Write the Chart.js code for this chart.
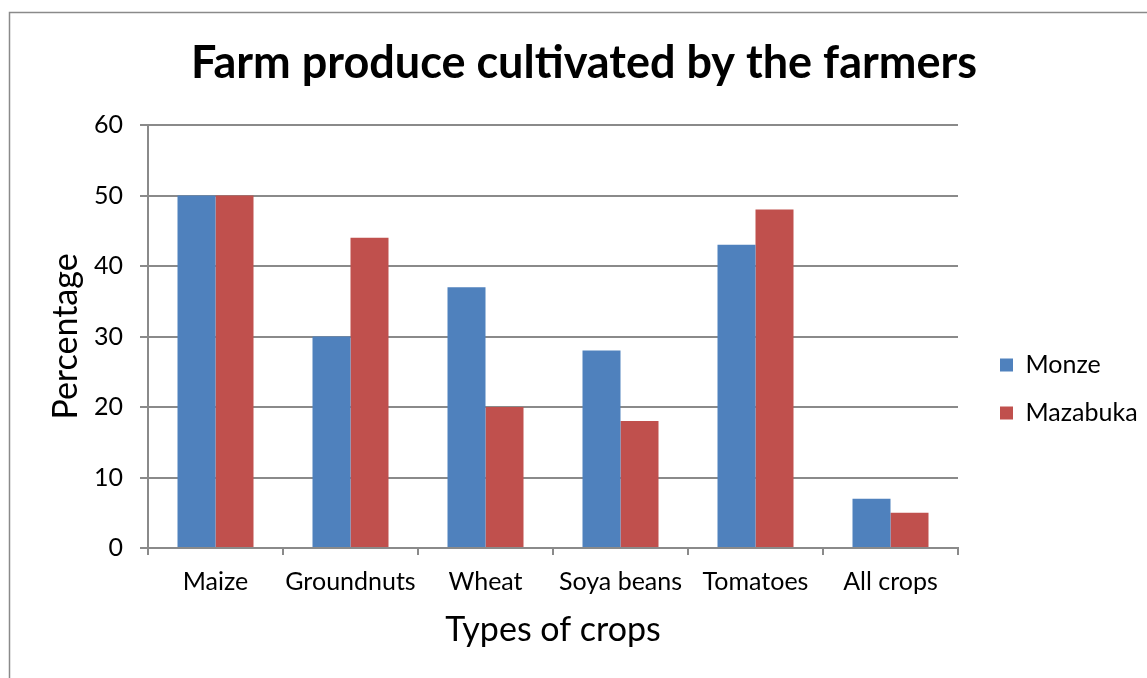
<!DOCTYPE html>
<html>
<head>
<meta charset="utf-8">
<script src="https://cdn.jsdelivr.net/npm/chart.js@4/dist/chart.umd.min.js"></script>
<style>
  html, body { margin: 0; padding: 0; background: #fff; }
  #wrap { width: 1147px; height: 678px; position: relative; }
</style>
</head>
<body>
<div id="wrap"><canvas id="c"></canvas></div>
<script>
// Share of farmers growing each crop, by district (%)
const crops = ['Maize', 'Groundnuts', 'Wheat', 'Soya beans', 'Tomatoes', 'All crops'];
const monze = [50, 30, 37, 28, 43, 7];
const mazabuka = [50, 44, 20, 18, 48, 5];
const seriesNames = ['Monze', 'Mazabuka'];
const yMin = 0, yMax = 60, yStep = 10;

const FONT = 'Lato, "Open Sans", sans-serif';
const GRID = '#8a8a8a';

// Thin frame around the whole figure
const frame = {
  id: 'frame',
  beforeDraw(chart) {
    const ctx = chart.ctx;
    ctx.save();
    ctx.fillStyle = '#fff';
    ctx.fillRect(0, 0, chart.width, chart.height);
    ctx.strokeStyle = '#8a8a8a';
    ctx.lineWidth = 1.5;
    ctx.strokeRect(9.5, 12.5, chart.width + 20, chart.height + 20);
    ctx.restore();
  }
};

new Chart(document.getElementById('c'), {
  type: 'bar',
  data: {
    labels: crops,
    datasets: [
      { label: seriesNames[0], data: monze, backgroundColor: '#4F81BD', borderWidth: 0 },
      { label: seriesNames[1], data: mazabuka, backgroundColor: '#C0504D', borderWidth: 0 }
    ]
  },
  options: {
    responsive: true,
    maintainAspectRatio: false,
    animation: false,
    categoryPercentage: 0.563,
    barPercentage: 1.0,
    layout: { padding: { left: 23, right: 2, top: 20, bottom: 28 } },
    plugins: {
      title: {
        display: true,
        text: 'Farm produce cultivated by the farmers',
        color: '#000',
        font: { family: FONT, size: 45, weight: 'bold' },
        padding: { top: 16, bottom: 35 }
      },
      legend: {
        position: 'right',
        maxWidth: 168,
        title: { display: true, text: ' ', font: { size: 10 }, padding: { top: 48, bottom: 48 } },
        labels: {
          boxWidth: 13,
          boxHeight: 13,
          padding: 23,
          color: '#000',
          font: { family: FONT, size: 25 }
        }
      },
      tooltip: { enabled: false }
    },
    scales: {
      x: {
        grid: { display: true, drawOnChartArea: false, color: GRID, lineWidth: 2, tickLength: 7, offset: true },
        border: { display: true, color: GRID, width: 2 },
        ticks: { color: '#000', font: { family: FONT, size: 25 }, padding: 12, maxRotation: 0 },
        title: {
          display: true, text: 'Types of crops', color: '#000',
          font: { family: FONT, size: 34 }, padding: { top: 0, bottom: 0 }
        },
        afterFit(s) { s.height = 102; }
      },
      y: {
        min: yMin, max: yMax,
        grid: { color: GRID, lineWidth: 2, tickLength: 8 },
        border: { display: true, color: GRID, width: 2 },
        ticks: { stepSize: yStep, color: '#000', font: { family: FONT, size: 25 }, padding: 17 },
        title: {
          display: true, text: 'Percentage', color: '#000',
          font: { family: FONT, size: 34 }, padding: { top: 23, bottom: 0 }
        },
        afterFit(s) { s.width = 125; }
      },
      gap: {
        type: 'linear', position: 'right', display: true,
        grid: { display: false }, ticks: { display: false }, border: { display: false },
        afterFit(s) { s.width = 19; }
      }
    }
  },
  plugins: [frame]
});
</script>
</body>
</html>
